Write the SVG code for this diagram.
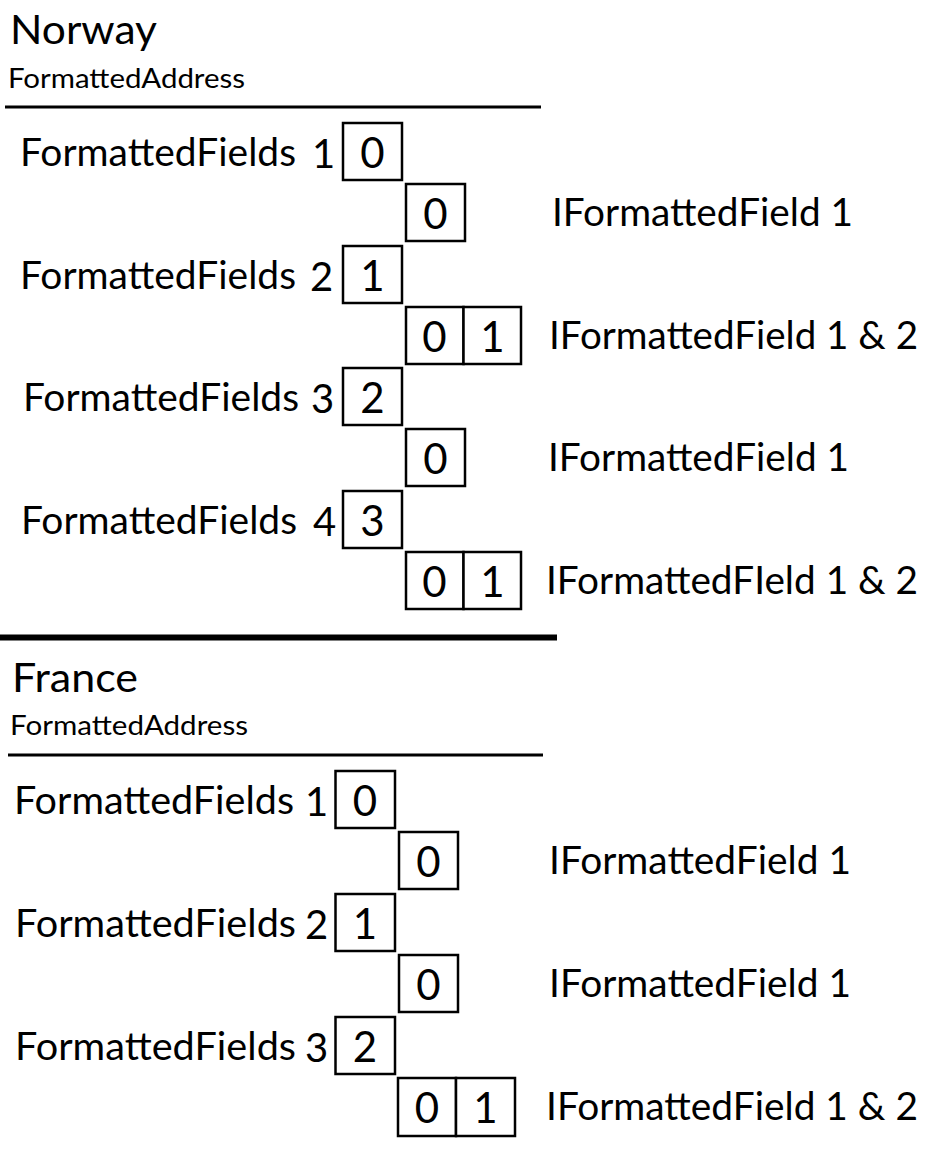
<svg xmlns="http://www.w3.org/2000/svg" width="942" height="1155" viewBox="0 0 942 1155">
<style>
text{font-family:Lato,"Open Sans","Liberation Sans",sans-serif;fill:#000}
.title{font-size:41px}
.sub{font-size:26px}
.lbl{font-size:38px}
.num{font-size:40px}
.dig{font-size:42px;text-anchor:middle}
.box{fill:#fff;stroke:#000;stroke-width:2.5}
.sep{stroke:#000;fill:none}
</style>
<rect width="942" height="1155" fill="#fff"/>
<g id="separators">
<line class="sep" x1="5" y1="107" x2="541" y2="107" stroke-width="3"/>
<line class="sep" x1="0" y1="637.5" x2="557" y2="637.5" stroke-width="6"/>
<line class="sep" x1="8" y1="755" x2="543" y2="755" stroke-width="3"/>
</g>
<g id="norway">
<g id="norway-title"><text class="title" x="10" y="44" textLength="147" lengthAdjust="spacingAndGlyphs">Norway</text></g>
<g id="norway-address"><text class="sub" x="8" y="88" textLength="237" lengthAdjust="spacingAndGlyphs">FormattedAddress</text></g>
<g id="no-ff1"><text class="lbl" x="20" y="165.5"><tspan textLength="276" lengthAdjust="spacingAndGlyphs">FormattedFields</tspan> <tspan class="num" x="312" y="168">1</tspan></text>
<rect class="box" x="343" y="123" width="59" height="57"/><text class="dig" x="372.5" y="168">0</text></g>
<g id="no-if1"><rect class="box" x="406" y="184" width="59" height="57"/><text class="dig" x="435.5" y="229">0</text>
<text class="lbl" x="552" y="226" textLength="301" lengthAdjust="spacingAndGlyphs">IFormattedField 1</text></g>
<g id="no-ff2"><text class="lbl" x="20" y="288.5"><tspan textLength="276" lengthAdjust="spacingAndGlyphs">FormattedFields</tspan> <tspan class="num" x="310" y="291">2</tspan></text>
<rect class="box" x="343" y="246" width="59" height="57"/><text class="dig" x="372.5" y="291">1</text></g>
<g id="no-if2"><rect class="box" x="406" y="307" width="57.5" height="57"/><rect class="box" x="463.5" y="307" width="57.5" height="57"/>
<text class="dig" x="434.5" y="352">0</text><text class="dig" x="492.5" y="352">1</text>
<text class="lbl" x="549" y="349" textLength="369" lengthAdjust="spacingAndGlyphs">IFormattedField 1 &amp; 2</text></g>
<g id="no-ff3"><text class="lbl" x="23" y="410.5"><tspan textLength="276" lengthAdjust="spacingAndGlyphs">FormattedFields</tspan> <tspan class="num" x="311" y="413">3</tspan></text>
<rect class="box" x="343" y="368" width="59" height="57"/><text class="dig" x="372.5" y="413">2</text></g>
<g id="no-if3"><rect class="box" x="406" y="429" width="59" height="57"/><text class="dig" x="435.5" y="474">0</text>
<text class="lbl" x="548" y="471" textLength="301" lengthAdjust="spacingAndGlyphs">IFormattedField 1</text></g>
<g id="no-ff4"><text class="lbl" x="21" y="533.5"><tspan textLength="276" lengthAdjust="spacingAndGlyphs">FormattedFields</tspan> <tspan class="num" x="313" y="536">4</tspan></text>
<rect class="box" x="343" y="491" width="59" height="57"/><text class="dig" x="372.5" y="536">3</text></g>
<g id="no-if4"><rect class="box" x="406" y="552" width="57.5" height="57"/><rect class="box" x="463.5" y="552" width="57.5" height="57"/>
<text class="dig" x="434.5" y="597">0</text><text class="dig" x="492.5" y="597">1</text>
<text class="lbl" x="546" y="594" textLength="372" lengthAdjust="spacingAndGlyphs">IFormattedFIeld 1 &amp; 2</text></g>
</g>
<g id="france">
<g id="france-title"><text class="title" x="12" y="692" textLength="126" lengthAdjust="spacingAndGlyphs">France</text></g>
<g id="france-address"><text class="sub" x="10" y="735" textLength="238" lengthAdjust="spacingAndGlyphs">FormattedAddress</text></g>
<g id="fr-ff1"><text class="lbl" x="14" y="813.5"><tspan textLength="280" lengthAdjust="spacingAndGlyphs">FormattedFields</tspan> <tspan class="num" x="305" y="816">1</tspan></text>
<rect class="box" x="335.5" y="771" width="59.5" height="57"/><text class="dig" x="365" y="816">0</text></g>
<g id="fr-if1"><rect class="box" x="399" y="832" width="59" height="57"/><text class="dig" x="428.5" y="877">0</text>
<text class="lbl" x="549" y="874" textLength="302" lengthAdjust="spacingAndGlyphs">IFormattedField 1</text></g>
<g id="fr-ff2"><text class="lbl" x="15" y="936.5"><tspan textLength="281" lengthAdjust="spacingAndGlyphs">FormattedFields</tspan> <tspan class="num" x="305" y="939">2</tspan></text>
<rect class="box" x="335.5" y="894" width="59.5" height="57"/><text class="dig" x="365" y="939">1</text></g>
<g id="fr-if2"><rect class="box" x="399" y="955" width="59" height="57"/><text class="dig" x="428.5" y="1000">0</text>
<text class="lbl" x="549" y="997" textLength="302" lengthAdjust="spacingAndGlyphs">IFormattedField 1</text></g>
<g id="fr-ff3"><text class="lbl" x="15" y="1059.5"><tspan textLength="281" lengthAdjust="spacingAndGlyphs">FormattedFields</tspan> <tspan class="num" x="305" y="1062">3</tspan></text>
<rect class="box" x="335.5" y="1017" width="59.5" height="57"/><text class="dig" x="365" y="1062">2</text></g>
<g id="fr-if3"><rect class="box" x="398" y="1078" width="58" height="58"/><rect class="box" x="456" y="1078" width="59" height="58"/>
<text class="dig" x="427" y="1123">0</text><text class="dig" x="485.5" y="1123">1</text>
<text class="lbl" x="546" y="1120" textLength="372" lengthAdjust="spacingAndGlyphs">IFormattedField 1 &amp; 2</text></g>
</g>
</svg>
